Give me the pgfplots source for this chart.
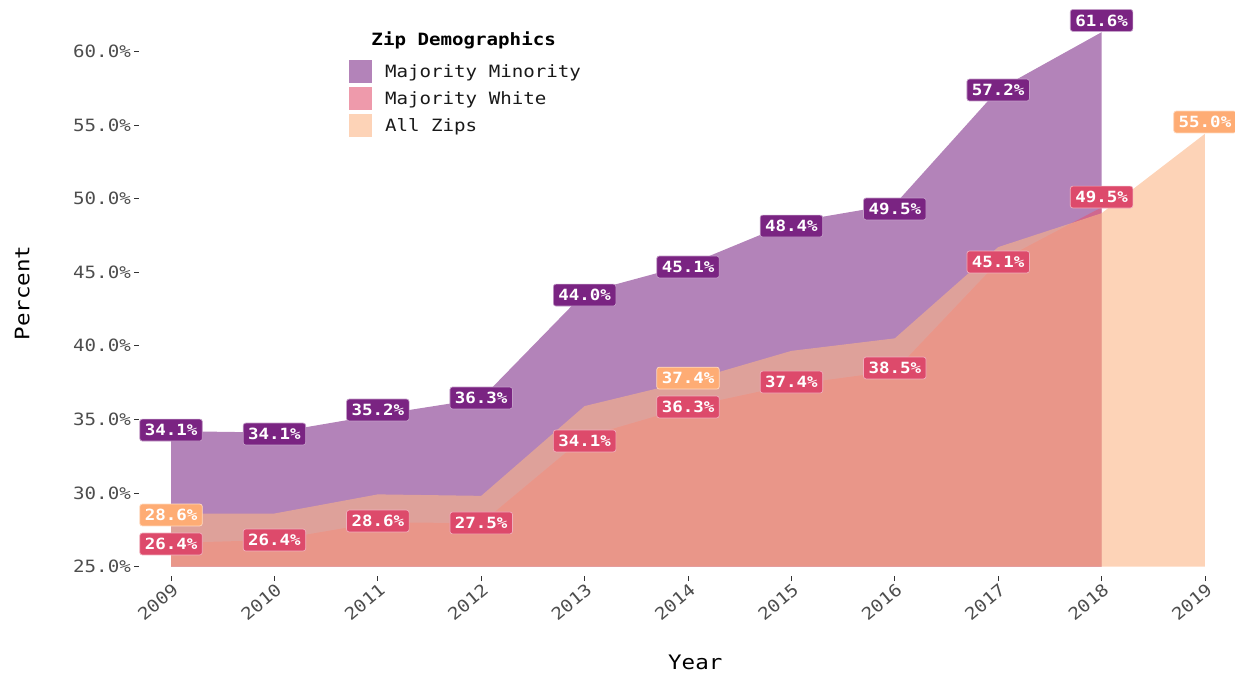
\documentclass[border=0pt]{standalone}
\usepackage{pgfplots}
\pgfplotsset{compat=1.18}
\usepackage{pgfplotstable}
\usepackage{fontspec}
\setmainfont{DejaVu Sans Mono}[FakeStretch=1.13]
\definecolor{mmA}{HTML}{80308A}
\definecolor{mwA}{HTML}{E35773}
\definecolor{azA}{HTML}{FCB687}
\definecolor{mmL}{HTML}{7A2482}
\definecolor{mwL}{HTML}{DD4A6B}
\definecolor{azL}{HTML}{FEAC74}
\definecolor{tickgrey}{HTML}{4D4D4D}
\definecolor{tickline}{HTML}{333333}

\pgfplotstableread{
x y
2009 25
2009 34.2
2010 34.1
2011 35.3
2012 36.4
2013 43.6
2014 45.5
2015 48.4
2016 49.6
2017 57.4
2018 61.3
2018 25
}\mmarea
\pgfplotstableread{
x y
2009 25
2009 26.6
2010 26.8
2011 28.0
2012 27.95
2013 33.8
2014 35.85
2015 37.35
2016 38.3
2017 45.7
2018 49.4
2018 25
}\mwarea
\pgfplotstableread{
x y
2009 25
2009 28.6
2010 28.6
2011 29.9
2012 29.8
2013 35.9
2014 37.6
2015 39.65
2016 40.5
2017 46.7
2018 49.0
2019 54.4
2019 25
}\azarea
\pgfplotstableread{
x y lab
2009 34.27 34.1
2010 34.0 34.1
2011 35.63 35.2
2012 36.45 36.3
2013 43.44 44.0
2014 45.35 45.1
2015 48.13 48.4
2016 49.29 49.5
2017 57.37 57.2
2018 62.1 61.6
}\mmlab
\pgfplotstableread{
x y lab
2009 26.53 26.4
2010 26.8 26.4
2011 28.09 28.6
2012 27.96 27.5
2013 33.53 34.1
2014 35.84 36.3
2015 37.53 37.4
2016 38.49 38.5
2017 45.69 45.1
2018 50.1 49.5
}\mwlab
\pgfplotstableread{
x y lab
2009 28.5 28.6
2014 37.8 37.4
2019 55.2 55.0
}\azlab

\pgfplotsset{
  vlabel/.style={draw=none, mark=none, forget plot,
    nodes near coords={\pgfplotspointmeta\%},
    point meta=explicit symbolic,
    every node near coord/.style={anchor=center, fill=#1, draw=white!55!#1,
      line width=0.7bp, rounded corners=2.5bp, text=white,
      font=\bfseries\fontsize{15.5}{18}\selectfont,
      text height=11.3bp, text depth=0bp, inner xsep=5bp, inner ysep=5.3bp}},
}

\begin{document}
\begin{tikzpicture}
\path[use as bounding box] (0,0) rectangle (1235bp,-675bp);
\begin{axis}[
  at={(139bp,-576bp)}, anchor=south west,
  scale only axis, width=1066bp, height=554.1bp,
  xmin=2008.69, xmax=2019, ymin=24.355, ymax=62,
  clip=false,
  axis x line*=bottom, axis y line*=left,
  axis line style={draw=none},
  tick align=outside, major tick length=5bp,
  tick style={draw=tickline, line width=0.8bp},
  xtick={2009,2010,2011,2012,2013,2014,2015,2016,2017,2018,2019},
  xticklabels={2009,2010,2011,2012,2013,2014,2015,2016,2017,2018,2019},
  ytick={25,30,35,40,45,50,55,60},
  /pgf/number format/assume math mode=true,
  yticklabel={\pgfmathprintnumber[fixed,fixed zerofill,precision=1]{\tick}\%},
  ticklabel style={font=\fontsize{17}{20}\selectfont, text=tickgrey},
  yticklabel style={inner sep=0pt, xshift=-3bp},
  xticklabel style={rotate=40, anchor=north east, inner sep=1bp, xshift=0.5bp},
  legend style={at={(axis cs:2010.72,59.41)}, anchor=north west, draw=none, fill=none,
    inner sep=0pt, row sep=4bp, column sep=13bp,
    nodes={inner sep=0pt, anchor=west},
    font=\fontsize{17}{20}\selectfont, text=black!90},
  legend image code/.code={\fill[#1] (0bp,-11.5bp) rectangle (23bp,11.5bp);},
]
\addplot[fill=mmA, fill opacity=0.6, draw=none] table {\mmarea};
\addlegendentry{Majority Minority}
\addplot[fill=mwA, fill opacity=0.6, draw=none] table {\mwarea};
\addlegendentry{Majority White}
\addplot[fill=azA, fill opacity=0.6, draw=none] table {\azarea};
\addlegendentry{All Zips}

\addplot[vlabel=mmL] table[meta=lab] {\mmlab};
\addplot[vlabel=mwL] table[meta=lab] {\mwlab};
\addplot[vlabel=azL] table[meta=lab] {\azlab};

\node[font=\bfseries\fontsize{17}{20}\selectfont, anchor=center] at (axis cs:2011.83,60.77) {Zip Demographics};
\node[font=\fontsize{20}{24}\selectfont, anchor=center] at (axis cs:2014.07,18.51) {Year};
\node[font=\fontsize{20}{24}\selectfont, anchor=center, rotate=90] at (axis cs:2007.56,43.58) {Percent};
\end{axis}
\end{tikzpicture}
\end{document}
